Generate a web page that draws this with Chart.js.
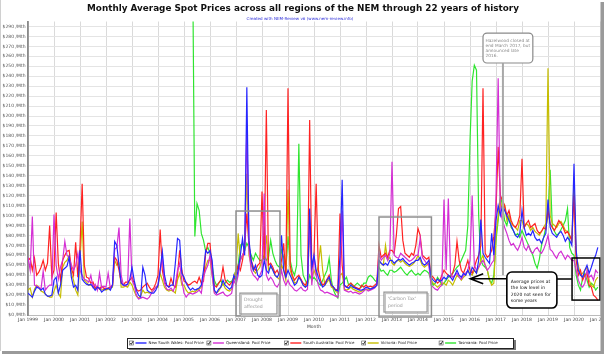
<!DOCTYPE html>
<html>
<head>
<meta charset="utf-8">
<script src="https://cdn.jsdelivr.net/npm/chart.js@4.4.1/dist/chart.umd.min.js"></script>
<style>
  html, body { margin: 0; padding: 0; background: #fff; overflow: hidden; }
  #wrap { width: 604px; height: 354px; position: relative; }
</style>
</head>
<body>
<div id="wrap"><canvas id="spotChart"></canvas></div>
<script>
// monthly average pool price, $/MWh, month 0 = Jan 1999
const firstYear = 1999;

const nswPrice = [
  22,20,18,24,28,27,25,27,21,19,19,20,    // 1999
  35,38,22,30,45,47,49,58,38,28,30,25,    // 2000
  65,36,33,31,30,31,28,25,28,27,23,25,    // 2001
  26,27,25,30,74,70,50,32,30,30,31,36,    // 2002
  48,35,25,20,18,48,40,25,23,22,22,25,    // 2003
  30,45,64,40,30,28,30,30,52,77,75,42,    // 2004
  38,32,28,25,27,25,26,27,30,45,65,62,    // 2005
  65,55,25,22,26,28,35,30,28,26,28,40,    // 2006
  35,45,60,77,60,229,75,55,45,50,40,38,   // 2007
  40,55,45,42,50,45,40,38,42,80,45,38,    // 2008
  45,40,35,30,32,38,35,30,28,30,107,48,   // 2009
  60,45,38,32,28,30,35,38,30,28,25,24,    // 2010
  60,136,30,28,27,30,28,27,26,25,25,26,   // 2011
  28,27,26,27,28,30,55,52,50,52,50,55,    // 2012
  55,52,54,56,55,57,54,52,50,52,53,55,    // 2013
  55,58,52,50,52,55,38,35,33,36,34,35,    // 2014
  38,36,40,38,35,40,45,40,38,42,40,45,    // 2015
  40,48,45,42,55,96,62,58,55,52,82,60,    // 2016
  95,110,100,110,105,100,95,90,85,80,78,82, // 2017
  105,88,80,82,80,85,78,75,76,72,78,82,   // 2018
  116,88,82,80,78,82,84,80,74,78,75,70,   // 2019
  152,65,45,40,38,45,50,42,48,55,60,68    // 2020
];

const qldPrice = [
  58,45,99,30,29,28,26,44,25,28,30,30,
  101,50,36,48,55,74,60,58,50,45,50,62,
  45,40,36,35,33,40,28,31,25,42,27,29,
  28,42,27,30,66,68,88,40,30,29,31,97,
  35,30,20,16,17,18,17,16,18,22,25,28,
  30,45,58,32,26,25,27,24,30,45,52,35,
  22,18,21,22,21,22,23,25,22,38,45,50,
  60,40,22,20,21,22,23,20,19,20,22,35,
  30,40,55,60,65,191,65,45,40,38,35,40,
  45,122,40,35,38,35,30,28,32,45,35,30,
  35,30,28,25,24,26,28,25,24,26,95,30,
  60,40,30,25,24,22,23,22,21,20,19,18,
  40,105,25,24,23,24,22,23,22,21,22,24,
  26,24,25,26,27,30,62,55,58,60,55,62,
  154,60,58,57,62,60,58,56,54,55,57,60,
  60,77,58,55,52,50,30,28,26,25,28,30,
  116,45,117,42,38,40,42,38,36,40,42,45,
  55,120,50,45,48,52,55,50,45,48,52,55,
  120,238,105,95,88,82,75,70,72,68,65,70,
  78,68,65,70,64,62,66,68,64,62,66,72,
  80,66,64,60,57,62,64,60,56,60,58,55,
  55,45,35,30,28,32,45,38,40,35,45,42
];

const saPrice = [
  55,57,45,57,40,43,48,55,45,52,90,38,
  45,103,52,35,55,60,64,65,47,40,73,38,
  69,132,50,38,37,32,33,27,29,26,29,27,
  26,27,28,30,58,55,45,33,30,33,33,35,
  38,32,26,24,25,28,30,32,28,25,27,32,
  40,86,45,33,30,28,37,30,28,40,65,45,
  34,33,30,31,33,34,32,38,32,34,62,72,
  72,45,30,28,32,35,48,35,32,30,33,35,
  40,50,45,55,70,102,70,55,48,45,50,52,
  124,55,206,50,52,48,42,45,40,55,72,38,
  228,50,40,35,38,40,36,32,30,35,196,45,
  60,132,45,35,30,32,36,40,30,28,25,26,
  102,50,30,28,30,32,30,28,27,26,30,28,
  30,28,29,28,30,32,70,58,60,62,58,65,
  65,62,80,107,109,75,62,60,58,62,60,70,
  87,80,60,58,56,58,40,38,35,32,34,40,
  45,42,40,38,42,50,74,55,45,42,48,55,
  45,42,48,55,60,70,228,62,58,60,65,79,
  105,169,120,115,110,100,105,95,90,88,92,100,
  157,88,92,95,88,90,92,85,82,84,88,86,
  105,92,88,85,90,95,92,88,82,84,80,75,
  120,55,40,45,35,40,42,30,28,20,18,15
];

const vicPrice = [
  25,27,18,26,30,28,24,23,21,19,18,18,
  24,30,22,18,48,53,55,60,42,35,25,20,
  55,94,35,33,30,30,29,26,28,27,25,26,
  25,26,27,28,55,50,52,28,28,29,28,33,
  30,24,19,17,19,25,22,23,22,23,25,28,
  28,42,35,28,25,24,25,24,22,35,42,30,
  30,25,22,23,24,23,25,26,28,40,48,55,
  55,40,23,22,24,28,32,27,25,24,26,38,
  45,82,55,60,65,142,60,50,45,42,45,48,
  55,58,80,45,48,46,40,38,36,50,45,35,
  126,45,38,32,33,38,35,30,28,32,90,35,
  45,40,50,70,45,30,33,36,28,27,24,22,
  40,42,26,25,26,28,26,25,24,23,24,25,
  26,25,26,27,28,30,55,52,50,70,55,58,
  52,50,54,55,53,55,52,50,49,50,52,55,
  60,55,50,48,50,52,35,32,30,28,30,32,
  32,30,35,33,30,35,40,38,35,38,40,45,
  42,40,45,42,48,55,60,50,45,35,30,32,
  80,100,115,105,110,95,100,92,90,88,85,95,
  95,88,92,90,85,88,84,82,80,84,88,92,
  248,100,92,90,88,92,94,90,85,84,80,75,
  135,60,50,40,42,45,48,35,30,28,35,38
];

// Tasmania joins the NEM in May 2005
const tasStart = 76;
const tasPrice = [
  350,79,112,105,82,75,64,68,             // 2005 (May-Dec)
  62,50,35,30,32,35,30,32,35,33,34,38,
  45,50,70,72,65,72,68,60,55,62,58,55,
  55,60,55,58,75,62,55,50,48,65,58,45,
  79,55,45,40,50,172,60,40,35,30,40,35,
  38,35,32,30,35,40,45,57,35,25,20,17,
  30,32,35,38,30,32,28,30,32,30,28,32,
  32,38,40,38,35,33,48,44,45,42,40,45,
  45,43,44,46,48,45,42,40,43,45,42,40,
  42,40,43,45,44,42,35,30,32,38,35,30,
  32,35,38,40,42,45,48,50,55,60,65,90,
  175,235,251,246,100,55,50,48,45,35,32,40,
  75,95,120,110,95,90,100,88,85,80,82,78,
  85,80,75,70,65,60,52,47,56,70,78,88,
  100,146,88,84,80,82,86,90,95,107,68,62,
  60,40,30,25,38,42,35,28,32,30,25,28
];

const seriesNames = [
  'New South Wales: Pool Price',
  'Queensland: Pool Price',
  'South Australia: Pool Price',
  'Victoria: Pool Price',
  'Tasmania: Pool Price'
];
const seriesColors = ['#2626ff', '#d42ed4', '#ff2222', '#c6bd00', '#2fe52f'];

const FONT = '"DejaVu Sans", Verdana, sans-serif';

function toPoints(values, offset) {
  return values.map((v, i) => ({ x: i + offset, y: v }));
}

function fitFont(ctx, text, weight, target) {
  ctx.font = weight + ' 10px ' + FONT;
  const w = ctx.measureText(text).width;
  return 10 * target / w;
}

function noteBox(ctx, x0, y0, x1, y1, lines, size) {
  ctx.fillStyle = '#fff';
  ctx.fillRect(x0, y0, x1 - x0, y1 - y0);
  ctx.strokeStyle = '#c4c4c4';
  ctx.lineWidth = 1;
  ctx.strokeRect(x0 + 1.5, y0 + 1.5, x1 - x0, y1 - y0);
  ctx.strokeStyle = '#9a9a9a';
  ctx.lineWidth = 1.3;
  ctx.strokeRect(x0, y0, x1 - x0, y1 - y0);
  ctx.fillStyle = '#999';
  ctx.font = size + 'px ' + FONT;
  ctx.textAlign = 'left';
  ctx.textBaseline = 'middle';
  lines.forEach((t, i) => ctx.fillText(t, x0 + 4, y0 + 6.5 + i * 7.5));
}

const decor = {
  id: 'decor',
  afterDatasetsDraw(chart) {
    const ctx = chart.ctx;
    const xs = chart.scales.x, ys = chart.scales.y;
    const px = m => xs.getPixelForValue(m);
    const py = v => ys.getPixelForValue(v);
    ctx.save();

    // drought period
    ctx.strokeStyle = '#8e8e8e';
    ctx.lineWidth = 1.5;
    ctx.strokeRect(px(96), py(104.5), px(116.3) - px(96), py(-1) - py(104.5));
    noteBox(ctx, px(97.8), py(22), px(114.9), py(1), ['Drought', 'affected'], 4.6);

    // carbon tax period
    ctx.strokeStyle = '#8e8e8e';
    ctx.lineWidth = 1.5;
    ctx.strokeRect(px(162), py(98.5), px(186.2) - px(162), py(-2) - py(98.5));
    noteBox(ctx, px(164.3), py(23), px(184.2), py(3), ["'Carbon Tax'", 'period'], 4.6);

    // Hazelwood callout
    ctx.strokeStyle = '#a8a8a8';
    ctx.lineWidth = 2;
    ctx.beginPath();
    ctx.moveTo(px(219.2), py(253));
    ctx.lineTo(px(219.2), py(40));
    ctx.stroke();
    let bx0 = px(210), bx1 = px(233), by0 = py(283.4), by1 = py(253.3);
    ctx.fillStyle = '#fff';
    ctx.strokeStyle = '#8a8a8a';
    ctx.lineWidth = 1.2;
    ctx.beginPath();
    ctx.roundRect(bx0, by0, bx1 - bx0, by1 - by0, 4);
    ctx.fill();
    ctx.stroke();
    ctx.fillStyle = '#8a8a8a';
    ctx.font = '4.3px ' + FONT;
    ctx.textAlign = 'left';
    ctx.textBaseline = 'middle';
    ['Hazelwood closed at', 'end March 2017, but', 'announced late', '2016.']
      .forEach((t, i) => ctx.fillText(t, bx0 + 2.5, by0 + 7.5 + i * 5));

    // 2020 low prices callout
    ctx.strokeStyle = '#000';
    ctx.lineWidth = 1.5;
    ctx.strokeRect(px(251.1), py(57.3), px(264) - px(251.1), py(15) - py(57.3));
    ctx.beginPath();
    ctx.moveTo(px(244.1), py(36.2));
    ctx.lineTo(px(251.1), py(36.2));
    ctx.moveTo(px(221), py(36.5));
    ctx.lineTo(px(204.1), py(36.5));
    ctx.moveTo(px(204.1) + 13, py(36.5) - 5);
    ctx.lineTo(px(204.1), py(36.5));
    ctx.lineTo(px(204.1) + 13, py(36.5) + 5);
    ctx.stroke();
    bx0 = px(221); bx1 = px(244.1); by0 = py(43.2); by1 = py(7);
    ctx.fillStyle = '#fff';
    ctx.lineWidth = 1.6;
    ctx.beginPath();
    ctx.roundRect(bx0, by0, bx1 - bx0, by1 - by0, 5);
    ctx.fill();
    ctx.stroke();
    ctx.fillStyle = '#111';
    ctx.font = '4.5px ' + FONT;
    ['Average prices at', 'the low level in', '2020 not seen for', 'some years']
      .forEach((t, i) => ctx.fillText(t, bx0 + 4, by0 + 10 + i * 6.3));

    ctx.restore();
  },
  afterDraw(chart) {
    const ctx = chart.ctx;
    ctx.save();
    ctx.textAlign = 'center';
    ctx.textBaseline = 'middle';

    const title = 'Monthly Average Spot Prices across all regions of the NEM through 22 years of history';
    ctx.font = 'bold ' + fitFont(ctx, title, 'bold', 432) + 'px ' + FONT;
    ctx.fillStyle = '#111';
    ctx.fillText(title, 303, 8.5);

    const sub = 'Created with NEM-Review v6 (www.nem-review.info)';
    ctx.font = fitFont(ctx, sub, 'normal', 107) + 'px ' + FONT;
    ctx.fillStyle = '#2b2bd8';
    ctx.fillText(sub, 300, 18.5);

    // legend
    const ly = 343;
    ctx.fillStyle = '#777';
    ctx.fillRect(129, 340, 387, 10);
    ctx.fillStyle = '#fff';
    ctx.fillRect(127, 338, 386, 10);
    ctx.strokeStyle = '#222';
    ctx.lineWidth = 1;
    ctx.strokeRect(127.5, 338.5, 386, 10);
    ctx.font = '3.9px ' + FONT;
    ctx.textAlign = 'left';
    seriesNames.forEach((name, i) => {
      const x0 = 129.5 + i * 77.4;
      ctx.strokeStyle = '#555';
      ctx.lineWidth = 0.6;
      ctx.strokeRect(x0, ly - 2, 4, 4);
      ctx.strokeStyle = '#000';
      ctx.lineWidth = 0.8;
      ctx.beginPath();
      ctx.moveTo(x0 + 0.8, ly);
      ctx.lineTo(x0 + 1.8, ly + 1.3);
      ctx.lineTo(x0 + 3.6, ly - 1.8);
      ctx.stroke();
      ctx.strokeStyle = seriesColors[i];
      ctx.globalAlpha = 0.7;
      ctx.lineWidth = 2;
      ctx.beginPath();
      ctx.moveTo(x0 + 6, ly);
      ctx.lineTo(x0 + 17, ly);
      ctx.stroke();
      ctx.globalAlpha = 1;
      ctx.fillStyle = '#222';
      ctx.fillText(name, x0 + 19, ly + 0.3);
    });

    // screenshot frame shadow
    ctx.fillStyle = '#9a9a9a';
    ctx.fillRect(600.5, 2, 3.5, 352);
    ctx.fillRect(2, 351, 602, 3);
    ctx.fillStyle = '#d0d0d0';
    ctx.fillRect(0, 0, 1, 351);
    ctx.restore();
  }
};

new Chart(document.getElementById('spotChart').getContext('2d'), {
  type: 'line',
  data: {
    datasets: [
      { label: seriesNames[0], data: toPoints(nswPrice, 0), borderColor: seriesColors[0] },
      { label: seriesNames[1], data: toPoints(qldPrice, 0), borderColor: seriesColors[1] },
      { label: seriesNames[2], data: toPoints(saPrice, 0), borderColor: seriesColors[2] },
      { label: seriesNames[3], data: toPoints(vicPrice, 0), borderColor: seriesColors[3] },
      { label: seriesNames[4], data: toPoints(tasPrice, tasStart), borderColor: seriesColors[4] }
    ]
  },
  options: {
    responsive: true,
    maintainAspectRatio: false,
    animation: false,
    devicePixelRatio: 1,
    elements: {
      line: { borderWidth: 1.2, tension: 0, fill: false },
      point: { radius: 0 }
    },
    layout: { padding: { top: 21.5, right: 4, bottom: 24, left: 0 } },
    scales: {
      x: {
        type: 'linear',
        min: 0,
        max: 264,
        afterFit: s => { s.height = 15; s.paddingLeft = 0; s.paddingRight = 0; },
        ticks: {
          stepSize: 12,
          autoSkip: false,
          maxRotation: 0,
          padding: 2,
          color: '#444',
          font: { family: FONT, size: 4.5 },
          callback: v => 'Jan ' + (firstYear + v / 12)
        },
        grid: { color: '#dadada', lineWidth: 1, drawTicks: false },
        border: { color: '#bbb', width: 1 },
        title: { display: true, text: 'Month', color: '#444', font: { family: FONT, size: 4.5 }, padding: 0 }
      },
      y: {
        min: 0,
        max: 295,
        afterFit: s => { s.width = 28; s.paddingTop = 0; s.paddingBottom = 0; },
        ticks: {
          stepSize: 10,
          includeBounds: false,
          autoSkip: false,
          padding: 2.5,
          color: '#555',
          font: { family: FONT, size: 4.5 },
          callback: v => '$' + v + ' /Mth'
        },
        grid: { color: '#e4e4e4', lineWidth: 1, drawTicks: false },
        border: { color: '#8a8a8a', width: 1.8 }
      }
    },
    plugins: {
      legend: { display: false },
      tooltip: { enabled: false },
      title: { display: false }
    }
  },
  plugins: [decor]
});
</script>
</body>
</html>
